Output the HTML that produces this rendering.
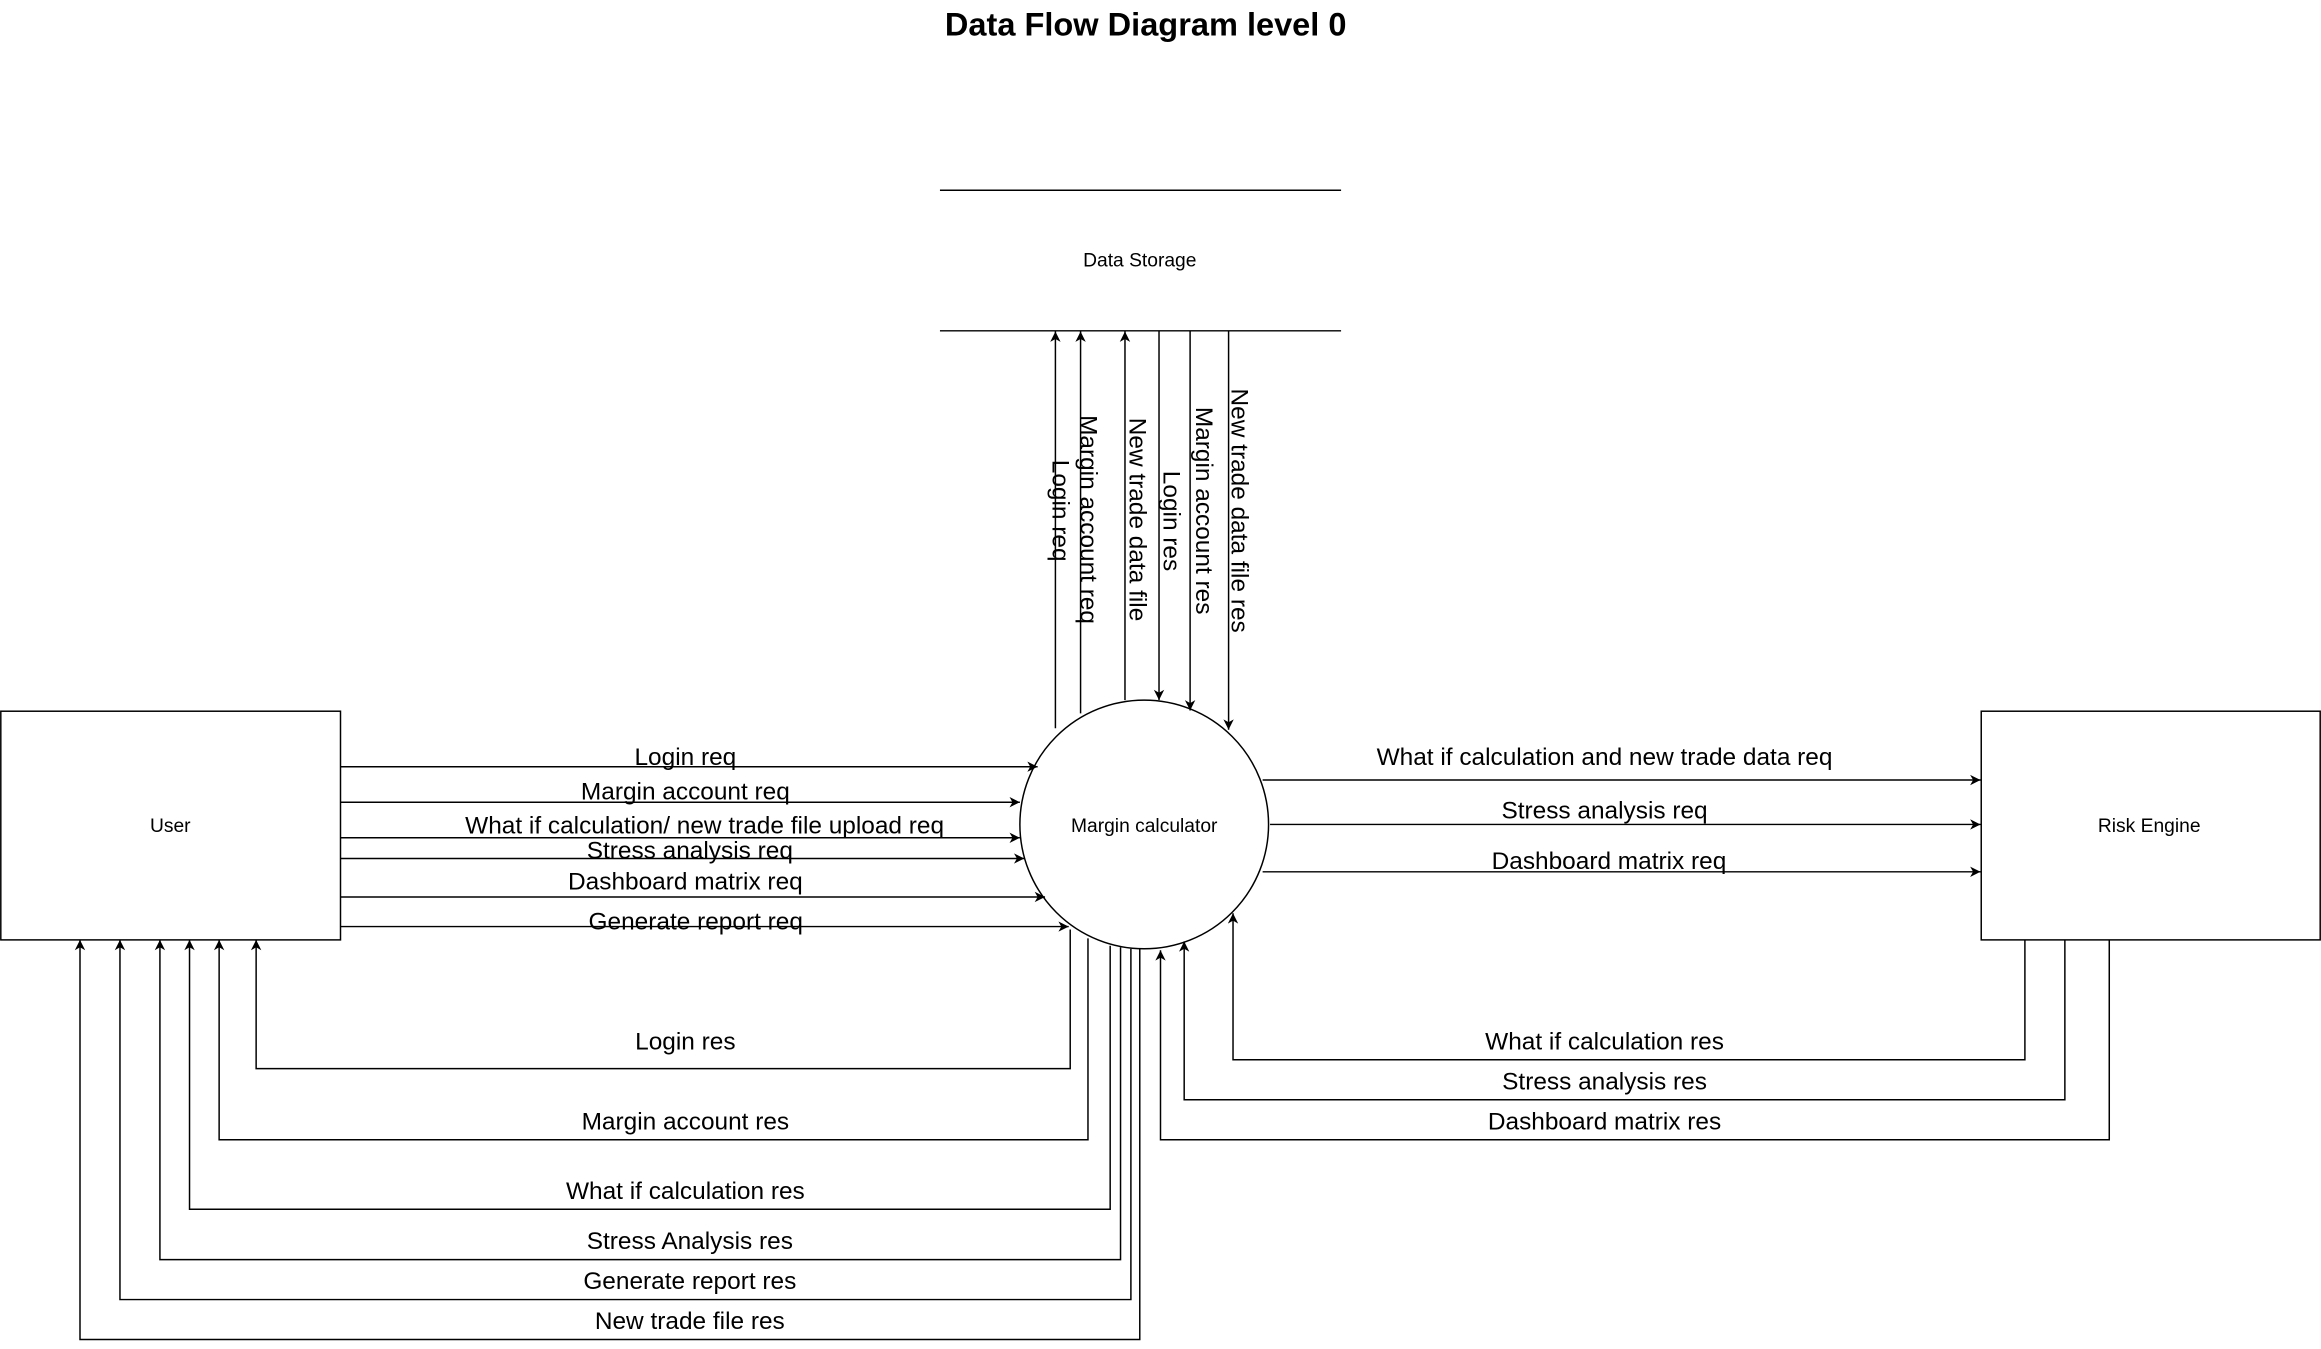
<!DOCTYPE html>
<html><head><meta charset="utf-8"><style>html,body{margin:0;padding:0;background:#fff}svg{display:block}</style></head>
<body>
<svg width="2321" height="1349" viewBox="0 0 1568 911.4" xmlns="http://www.w3.org/2000/svg" font-family="Liberation Sans, sans-serif">
<defs><marker id="a" markerWidth="8" markerHeight="8" refX="7" refY="4" orient="auto" markerUnits="userSpaceOnUse"><path d="M0,0.5 L7,4 L0,7.5 L2,4z" fill="#000"/></marker></defs>
<text x="774" y="24" font-size="22" font-weight="bold" text-anchor="middle">Data Flow Diagram level 0</text>
<g stroke="#000" stroke-width="1" fill="none">
<line x1="635" y1="128.5" x2="906" y2="128.5"/><line x1="635" y1="223.5" x2="906" y2="223.5"/>
<rect x="0.5" y="480.5" width="229.5" height="154.5"/>
<rect x="1338.5" y="480.5" width="229" height="154.5"/>
<circle cx="773" cy="557" r="84"/>
<g marker-end="url(#a)">
<path d="M230 518 H701"/><path d="M230 542 H689"/><path d="M230 566 H689"/><path d="M230 580 H692"/><path d="M230 606 H706"/><path d="M230 626 H722"/>
<path d="M723 628 V722 H173 V635"/><path d="M735 634 V770 H148 V635"/><path d="M750 639 V817 H128 V635"/><path d="M757 640 V851 H108 V635"/><path d="M764 641 V878 H81 V635"/><path d="M770 641 V905 H54 V635"/>
<path d="M853 527 H1338"/><path d="M858 557 H1338"/><path d="M853 589 H1338"/>
<path d="M1368 635 V716 H833 V617"/><path d="M1395 635 V743 H800 V636"/><path d="M1425 635 V770 H784 V642"/>
<path d="M713 492 V224"/><path d="M730 482 V224"/><path d="M760 473 V224"/>
<path d="M783 224 V473"/><path d="M804 224 V480"/><path d="M830 224 V493"/>
</g></g>
<g font-size="13" text-anchor="middle">
<text x="770" y="180">Data Storage</text><text x="115" y="562">User</text><text x="773" y="562">Margin calculator</text><text x="1452" y="562">Risk Engine</text>
</g>
<g font-size="16.5" text-anchor="middle">
<text x="463" y="517">Login req</text><text x="463" y="540">Margin account req</text><text x="476" y="563">What if calculation/ new trade file upload req</text><text x="466" y="580">Stress analysis req</text><text x="463" y="601">Dashboard matrix req</text><text x="470" y="628">Generate report req</text>
<text x="463" y="709">Login res</text><text x="463" y="763">Margin account res</text><text x="463" y="810">What if calculation res</text><text x="466" y="844">Stress Analysis res</text><text x="466" y="871">Generate report res</text><text x="466" y="898">New trade file res</text>
<text x="1084" y="517">What if calculation and new trade data req</text><text x="1084" y="553">Stress analysis req</text><text x="1087" y="587">Dashboard matrix req</text>
<text x="1084" y="709">What if calculation res</text><text x="1084" y="736">Stress analysis res</text><text x="1084" y="763">Dashboard matrix res</text>
<text transform="translate(711,345) rotate(90)">Login req</text>
<text transform="translate(730,351) rotate(90)">Margin account req</text>
<text transform="translate(763,351) rotate(90)">New trade data file</text>
<text transform="translate(786,352) rotate(90)">Login res</text>
<text transform="translate(808,345) rotate(90)">Margin account res</text>
<text transform="translate(832,345) rotate(90)">New trade data file res</text>
</g>
</svg>
</body></html>
